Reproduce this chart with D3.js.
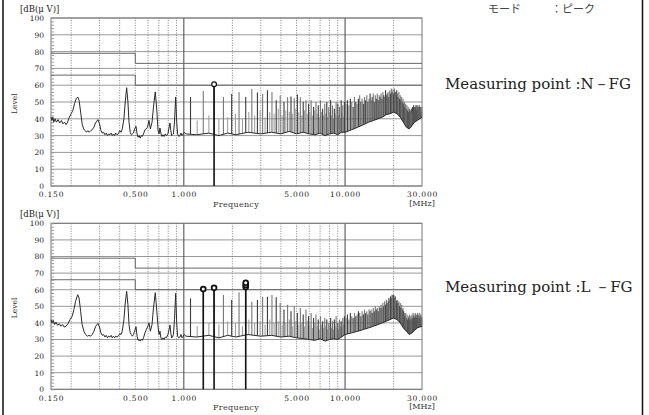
<!DOCTYPE html>
<html>
<head>
<meta charset="utf-8">
<script src="https://cdnjs.cloudflare.com/ajax/libs/d3/7.8.5/d3.min.js"></script>
<style>
body{margin:0;background:#fff;}
svg{display:block;}
</style>
</head>
<body>
<svg id="chart" width="649" height="415"></svg>
<script>
// axis ticks / grid
var levelTicks = [0,10,20,30,40,50,60,70,80,90,100];
var freqLabels = [0.15,0.5,1,5,10,30];
var gridDotted = [0.2,0.3,0.4,0.5,0.6,0.7,0.8,0.9,2,3,4,5,6,7,8,9,20];
var gridSolid = [1,10];

// limit lines (QP / AV)
var limitQP = [[0.15,79],[0.5,79],[0.5,73],[30,73]];
var limitAV = [[0.15,66],[0.5,66],[0.5,60],[30,60]];

// harmonics of the 220 kHz switching frequency, above 1 MHz
var harmonicMHz = [1.10,1.32,1.54,1.76,1.98,2.20,2.42,2.64,2.86,3.08,3.30,3.52,3.74,3.96,4.18,4.40,4.62,4.84,5.06,5.28,5.50,5.72,
  5.94,6.16,6.38,6.60,6.82,7.04,7.26,7.48,7.70,7.92,8.14,8.36,8.58,8.80,9.02,9.24,9.46,9.68,9.90,
  10.12,10.34,10.56,10.78,11.00,11.22,11.44,11.66,11.88,12.10,12.32,12.54,12.76,12.98,13.20,13.42,13.64,13.86,14.08,14.30,
  14.52,14.74,14.96,15.18,15.40,15.62,15.84,16.06,16.28,16.50,16.72,16.94,17.16,17.38,17.60,17.82,18.04,18.26,18.48,18.70,
  18.92,19.14,19.36,19.58,19.80,20.02,20.24,20.46,20.68,20.90,21.12,21.34,21.56,21.78,22.00,22.22,22.44,22.66,22.88,23.10,
  23.32,23.54,23.76,23.98,24.20,24.42,24.64,24.86,25.08,25.30,25.52,25.74,25.96,26.18,26.40,26.62,26.84,27.06,27.28,27.50,
  27.72,27.94,28.16,28.38,28.60,28.82,29.04,29.26,29.48,29.70,29.92];
// small spurs between harmonics
var spurMHz = [1.21,1.43,1.65,1.87,2.09,2.31,2.53,2.75,2.97,3.19,3.41,3.63,3.85,4.07,4.29,4.51,4.73,4.95,5.17,5.39,
  5.61,5.83,6.05,6.27,6.49,6.71,6.93,7.15,7.37,7.59,7.81,8.03,8.25,8.47,8.69,8.91,9.13,9.35,9.57,9.79];

// ---- N-FG ----
var nfgTrace = [[0.150,41],[0.152,39],[0.154,41],[0.156,38],[0.159,40],[0.162,38],[0.166,39.5],[0.170,37.5],[0.174,39],
  [0.178,37],[0.182,38],[0.186,36.5],[0.190,38],[0.195,41],[0.200,43],[0.205,45],[0.210,49],[0.215,52],[0.2196,53],
  [0.224,51],[0.229,44],[0.234,37],[0.239,34],[0.244,33],[0.249,32],[0.254,33],[0.259,32],[0.265,33],[0.270,33.5],
  [0.277,35],[0.283,37.5],[0.2934,39.5],[0.300,37],[0.306,33],[0.312,31.5],[0.318,32],[0.324,30.5],[0.330,31.5],
  [0.336,30],[0.342,31],[0.348,30.5],[0.354,31.5],[0.360,30],[0.366,31],[0.372,30],[0.378,31.5],[0.385,30.5],
  [0.392,31],[0.400,33],[0.408,32],[0.415,34],[0.425,40],[0.433,50],[0.442,58.5],[0.450,50],[0.457,38],[0.465,32],
  [0.472,30.5],[0.480,31],[0.487,31.5],[0.495,34],[0.505,35.5],[0.513,31],[0.520,29],[0.528,30],[0.536,28.5],
  [0.545,30],[0.553,29.5],[0.562,31],[0.574,33.5],[0.585,34],[0.595,35],[0.608,39],[0.620,34],[0.635,38],[0.648,47],
  [0.665,56],[0.680,45],[0.692,33],[0.702,31],[0.711,34.5],[0.722,31],[0.732,29.5],[0.742,30.5],[0.755,29.5],
  [0.768,31],[0.780,30],[0.797,31],[0.806,34],[0.8206,37.5],[0.830,33],[0.840,30],[0.850,30.5],[0.862,31],
  [0.875,38],[0.890,53],[0.903,38],[0.915,31],[0.930,29.5],[0.946,30],[0.960,31.5],[0.975,30],[0.990,31],[1.005,32]];
var nfgFloor = [[1.03,31],[1.2,30.5],[1.43,31.5],[1.65,30],[1.87,31.5],[2.1,30.5],[2.5,32],[3,31],[3.5,32],[4,31],
  [4.5,32.5],[5,31],[5.5,32],[6,31],[6.5,30.5],[7,31.5],[7.5,30],[8,31],[8.5,31.5],[9,30.5],[9.5,32],[10,32],
  [11,33.5],[12,35],[13,36.5],[14,38],[15,39],[16,40],[17,41],[18,42.5],[19,43],[20,44],[21,43],[22,41],[23,38],
  [24,35],[25,34],[26,36],[27,38],[28,39],[29,40],[30,41]];
var nfgPeaks = [53,56.5,59,53,54.8,56,53,57.7,55.6,54.8,57,56,51,53.8,50.2,52.8,53.2,52.2,54.4,52.8,50.2,51,
  49,51,47,50,48,51,46,49,50,47,51,48,46,50,49,47,51,48,50,
  49,51,48,52,50,47,53,50,49,52, 54,50,52,49,53,51,54,50,52,55, 51,53,55,50,54,52,55,51,54,53,
  55,52,56,54,53,57,54,55,56,53, 57,55,58,56,57.5,55,58,56,54,57, 55,53,56,52,54,51,53,50,52,49,
  50,47,49,46,48,45,47,44,46,45, 44,46,43,47,45,48,44,47,46,48, 45,48,46,47,44,48,45,47,46,44,47];
var nfgSpurs = [39,42,40,41,43,40,44,42,45,41,44,43,46,42,45,44,43,46,44,42,45,43,44,42,45,43,41,44,42,43,
  41,44,42,40,43,41,42,40,43,41];
var nfgMarkers = [[1.54,59,1]];

// ---- L-FG ----
var lfgTrace = [[0.150,42],[0.152,40],[0.155,41.5],[0.158,39],[0.161,40.5],[0.165,38.5],[0.169,39.5],[0.173,38],
  [0.177,39],[0.181,37.5],[0.186,38],[0.191,39.5],[0.197,42],[0.203,44],[0.208,48],[0.213,53],[0.2196,57],[0.224,55],
  [0.229,47],[0.234,39],[0.240,35],[0.246,33],[0.252,32],[0.258,32.5],[0.264,32],[0.270,33],[0.277,35],[0.284,38],
  [0.2934,39.7],[0.300,37.5],[0.306,34],[0.312,32.5],[0.318,33],[0.324,31.5],[0.330,32.5],[0.336,31],[0.342,32],
  [0.348,31.5],[0.354,32.5],[0.360,31],[0.366,32],[0.372,31],[0.378,32],[0.385,31.5],[0.392,32],[0.400,33.5],
  [0.408,33],[0.415,35],[0.425,42],[0.433,52],[0.442,59],[0.450,51],[0.457,39],[0.465,34],[0.472,33],[0.480,32],
  [0.487,33],[0.495,35],[0.505,37.7],[0.513,32],[0.520,29.5],[0.528,30],[0.536,29],[0.545,30],[0.553,29.5],
  [0.562,31],[0.574,34],[0.585,36],[0.595,37.5],[0.608,40],[0.620,35],[0.635,39],[0.648,49],[0.665,58.2],[0.680,47],
  [0.692,37.7],[0.702,33],[0.711,35],[0.722,30.5],[0.732,30],[0.742,31],[0.755,30],[0.768,31.5],[0.780,31],
  [0.797,33],[0.806,35],[0.8206,38.7],[0.830,34],[0.840,31],[0.850,31.5],[0.862,33],[0.875,42],[0.890,57.8],
  [0.903,40],[0.915,32],[0.930,31],[0.946,31.5],[0.960,33],[0.975,31],[0.990,32],[1.005,33]];
var lfgFloor = [[1.03,32],[1.2,31.5],[1.43,32.5],[1.65,31],[1.87,32.5],[2.1,31.5],[2.5,33],[3,32],[3.5,32.5],[4,31.5],
  [4.5,32],[5,31],[5.5,30.5],[6,30],[6.5,29.5],[7,30.5],[7.5,29],[8,30],[8.5,30.5],[9,30],[9.5,31.5],[10,33],
  [11,34],[12,35],[13,36],[14,37],[15,38],[16,39],[17,40],[18,41],[19,42],[20,43],[21,42],[22,40],[23,37],
  [24,35],[25,33],[26,34],[27,35.5],[28,37],[29,37.5],[30,38]];
var lfgPeaks = [54.8,58.8,59.6,56.8,53.8,58.5,60,52.8,53.8,55.8,55.8,56.8,55.4,52,48,51,47,50,46,49,45,48,
  44,46,43,45,42,44,41,43,42,40,43,41,42,44,40,42,41,43,44,
  43,45,42,46,44,43,46,44,45,47, 46,44,47,45,48,46,47,45,48,47, 48,46,49,47,50,48,49,47,50,49,
  51,49,52,50,53,51,54,52,53,55, 54,56,55,57,56,57,55,56,54,53, 54,52,53,50,52,49,51,48,49,47,
  46,44,46,43,45,42,44,43,45,42, 44,42,45,43,46,44,45,43,46,44, 45,43,46,44,45,43,46,44,45,43,44];
var lfgSpurs = [38,40,39,41,40,38,42,40,41,39,42,40,41,39,40,42,38,41,39,40,38,41,39,37,40,38,36,39,37,38,
  36,39,37,36,38,37,36,38,37,39];
var lfgMarkers = [[1.32,58.8,1],[1.54,59.6,1],[2.42,60,3]];

var svg = d3.select("#chart");
var x = d3.scaleLog().domain([0.15,30]).range([51,422]);
var fmtFreq = d3.format(".3f");
var serif = "'DejaVu Serif', serif";

function drawChart(cfg){
    var y = d3.scaleLinear().domain([0,100]).range([cfg.y0, cfg.y100]);
    var g = svg.append("g");
    var x0 = x.range()[0], x1 = x.range()[1];

    // horizontal grid
    g.selectAll(".hgrid").data(levelTicks).enter().append("line")
        .attr("x1",x0).attr("x2",x1)
        .attr("y1",function(d){return y(d);}).attr("y2",function(d){return y(d);})
        .attr("stroke","#8c8c8c").attr("stroke-width",0.9);
    // vertical grid
    g.selectAll(".vdot").data(gridDotted).enter().append("line")
        .attr("x1",function(d){return x(d);}).attr("x2",function(d){return x(d);})
        .attr("y1",y(0)).attr("y2",y(100))
        .attr("stroke","#777").attr("stroke-width",0.9).attr("stroke-dasharray","1,1.5");
    g.selectAll(".vsolid").data(gridSolid).enter().append("line")
        .attr("x1",function(d){return x(d);}).attr("x2",function(d){return x(d);})
        .attr("y1",y(0)).attr("y2",y(100))
        .attr("stroke","#444").attr("stroke-width",1);
    // frame
    g.append("rect").attr("x",x0).attr("y",y(100)).attr("width",x1-x0).attr("height",y(0)-y(100))
        .attr("fill","none").attr("stroke","#777").attr("stroke-width",1);

    // minor ticks on level axis
    g.append("g").attr("transform","translate("+x0+",0)")
        .call(d3.axisRight(y).ticks(50).tickSize(3).tickFormat(""))
        .call(function(a){a.select(".domain").remove(); a.selectAll("line").attr("stroke","#999");});

    // limit lines
    var lim = d3.line().x(function(d){return x(d[0]);}).y(function(d){return y(d[1]);});
    [limitQP,limitAV].forEach(function(l){
        g.append("path").attr("d",lim(l)).attr("fill","none").attr("stroke","#666").attr("stroke-width",1);
    });

    // spikes stand on the noise floor
    var floorAt = d3.scaleLinear().domain(cfg.floor.map(function(d){return d[0];}))
        .range(cfg.floor.map(function(d){return d[1];}));
    g.selectAll(".spur").data(spurMHz).enter().append("line")
        .attr("x1",function(d){return x(d);}).attr("x2",function(d){return x(d);})
        .attr("y1",function(d){return y(floorAt(d));})
        .attr("y2",function(d,i){return y(cfg.spurs[i]);})
        .attr("stroke","#999").attr("stroke-width",1);
    g.selectAll(".peak").data(harmonicMHz).enter().append("line")
        .attr("x1",function(d){return x(d);}).attr("x2",function(d){return x(d);})
        .attr("y1",function(d){return y(floorAt(d));})
        .attr("y2",function(d,i){return y(cfg.peaks[i]);})
        .attr("stroke",function(d,i){return i % 2 ? "#777" : "#3a3a3a";}).attr("stroke-width",1.1);

    // measured trace
    var line = d3.line().x(function(d){return x(d[0]);}).y(function(d){return y(d[1]);});
    g.append("path").attr("d",line(cfg.trace.concat(cfg.floor)))
        .attr("fill","none").attr("stroke","#2a2a2a").attr("stroke-width",1);

    // markers
    cfg.markers.forEach(function(m){
        g.append("line").attr("x1",x(m[0])).attr("x2",x(m[0]))
            .attr("y1",y(0)).attr("y2",y(m[1]))
            .attr("stroke","#111").attr("stroke-width",1.6);
        for(var k=0;k<m[2];k++){
            var cy = y(m[1]) - 2.6 - k*2.2;
            g.append("circle").attr("cx",x(m[0])).attr("cy",cy).attr("r",2.4)
                .attr("fill","#fff").attr("stroke","#111").attr("stroke-width",cfg.markerStroke);
        }
    });

    // level labels
    g.append("g").attr("transform","translate("+x0+",0)")
        .call(d3.axisLeft(y).tickValues(levelTicks).tickSize(0).tickPadding(7))
        .call(function(a){
            a.select(".domain").remove();
            a.selectAll("text").attr("font-family",serif).attr("font-size",7.5).attr("fill","#222");
        });
    // frequency labels
    g.append("g").attr("transform","translate(0,"+y(0)+")")
        .call(d3.axisBottom(x).tickValues(freqLabels).tickFormat(fmtFreq).tickSize(0).tickPadding(6))
        .call(function(a){
            a.select(".domain").remove();
            a.selectAll("text").attr("font-family",serif).attr("font-size",7.5).attr("fill","#222")
                .attr("letter-spacing",0.8);
        });

    g.append("text").attr("x",20).attr("y",y(100)-6).text("[dB(μ V)]")
        .attr("font-family",serif).attr("font-size",8.5).attr("fill","#222");
    g.append("text").attr("transform","translate(17,"+y(49)+") rotate(-90)").attr("text-anchor","middle")
        .text("Level").attr("font-family",serif).attr("font-size",7.5).attr("fill","#333");
    g.append("text").attr("x",236).attr("y",y(0)+21).attr("text-anchor","middle").text("Frequency")
        .attr("font-family",serif).attr("font-size",8).attr("letter-spacing",0.3).attr("fill","#333");
    g.append("text").attr("x",422).attr("y",y(0)+20).attr("text-anchor","middle").text("[MHz]")
        .attr("font-family",serif).attr("font-size",8).attr("fill","#333");

    g.append("text").attr("x",445).attr("y",cfg.labelY).text(cfg.label)
        .attr("font-family",serif).attr("font-size",15).attr("fill","#222");
}

drawChart({y0:186, y100:18, trace:nfgTrace, floor:nfgFloor, peaks:nfgPeaks, spurs:nfgSpurs,
    markers:nfgMarkers, markerStroke:1.2, label:"Measuring point :N－FG", labelY:89});
drawChart({y0:389.3, y100:223.3, trace:lfgTrace, floor:lfgFloor, peaks:lfgPeaks, spurs:lfgSpurs,
    markers:lfgMarkers, markerStroke:1.8, label:"Measuring point :L －FG", labelY:292});

// header and page frame
svg.append("text").attr("x",488).attr("y",13).text("モード")
    .attr("font-family","'Noto Sans CJK JP'").attr("font-size",11).attr("fill","#444");
svg.append("text").attr("x",551).attr("y",13).text("：ピーク")
    .attr("font-family","'Noto Sans CJK JP'").attr("font-size",11).attr("fill","#444");
svg.append("line").attr("x1",3).attr("x2",3).attr("y1",0).attr("y2",415).attr("stroke","#111").attr("stroke-width",1.5);
svg.append("line").attr("x1",642.5).attr("x2",642.5).attr("y1",0).attr("y2",415).attr("stroke","#111").attr("stroke-width",1.5);
</script>
</body>
</html>
